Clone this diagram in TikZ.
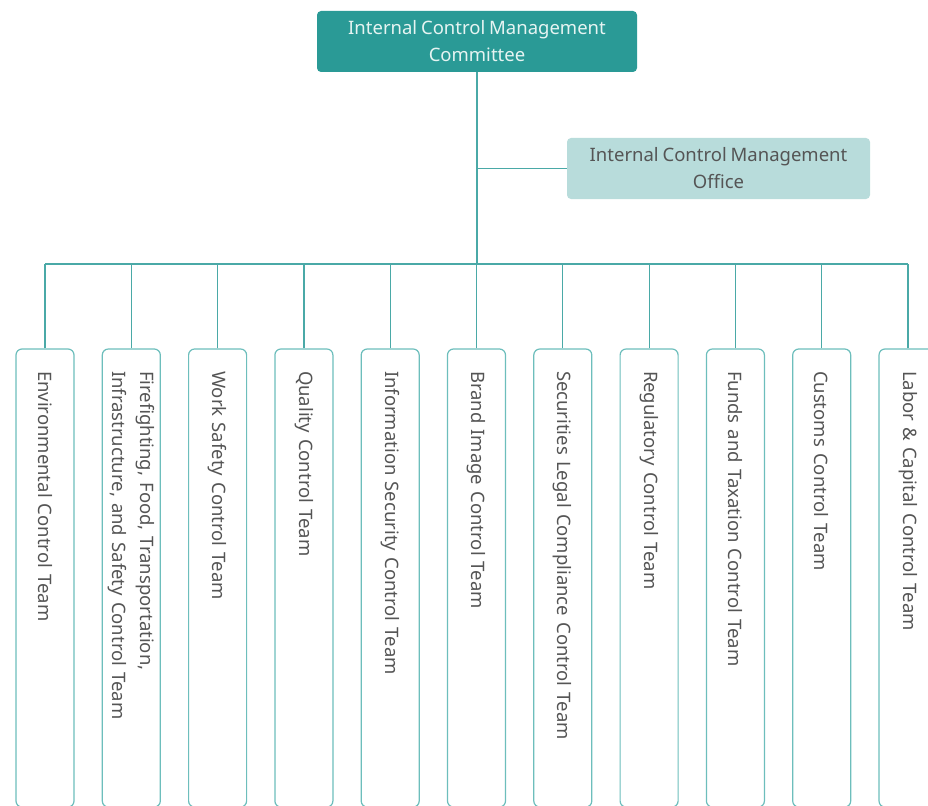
\documentclass[tikz,border=0pt]{standalone}
\usepackage{fontspec}
\setmainfont{Noto Sans}[WordSpace=0.8]
\definecolor{topfill}{HTML}{2A9A96}
\definecolor{toptext}{HTML}{E6F4F2}
\definecolor{officefill}{HTML}{B8DCDB}
\definecolor{graytext}{HTML}{555555}
\definecolor{linecol}{HTML}{4AA9A7}
\definecolor{boxline}{HTML}{6DBEBC}
\begin{document}
\begin{tikzpicture}[x=1pt,y=-1pt,
  topbox/.style={fill=topfill, text=toptext, rounded corners=4pt, minimum width=320pt, minimum height=61pt, align=center, font=\fontsize{18.5}{27}\selectfont, inner sep=0pt},
  officebox/.style={fill=officefill, text=graytext, rounded corners=4pt, minimum width=303pt, minimum height=61pt, align=center, font=\fontsize{18.5}{27}\selectfont, inner sep=0pt},
  teambox/.style={draw=boxline, line width=1.2pt, fill=white, rounded corners=6pt, rotate=-90,
     minimum width=454pt, minimum height=58pt, text width=414pt, align=left, inner xsep=22pt, inner ysep=0pt,
     text=graytext, font=\fontsize{18.5}{28}\selectfont},
  conn/.style={draw=linecol, line width=1.2pt}]
\useasboundingbox (0,0) rectangle (928,805);
\node[topbox] (top) at (477,41.5) {Internal Control Management\\Committee};
\node[officebox] (office) at (718.5,168.5) {Internal Control Management\\Office};
\coordinate (bus) at (477,264);
\foreach \i/\x/\t in {
 1/45/{Environmental Control Team},
 2/131.3/{Firefighting, Food, Transportation,\\Infrastructure, and Safety Control Team},
 3/217.6/{Work Safety Control Team},
 4/303.9/{Quality Control Team},
 5/390.2/{Information Security Control Team},
 6/476.5/{Brand Image Control Team},
 7/562.8/{Securities Legal Compliance Control Team},
 8/649.1/{Regulatory Control Team},
 9/735.4/{Funds and Taxation Control Team},
 10/821.7/{Customs Control Team},
 11/908/{Labor \& Capital Control Team}}
{
  \node[teambox] (t\i) at (\x,578) {\t};
  \draw[conn] (t\i.west) -- (t\i.west |- bus);
}
\draw[conn] (t1.west |- bus) -- (t11.west |- bus);
\draw[conn] (top.south) -- (top.south |- bus);
\draw[conn] (top.south |- office.west) -- (office.west);
\end{tikzpicture}
\end{document}
